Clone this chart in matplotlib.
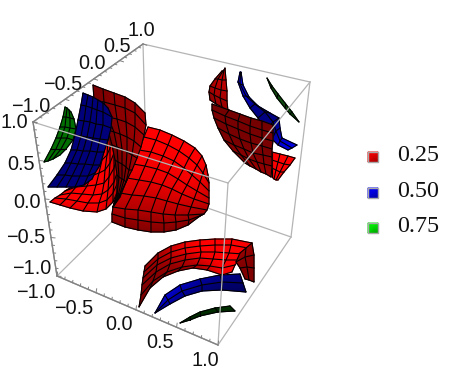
import numpy as np
import matplotlib
matplotlib.use("Agg")
import matplotlib.pyplot as plt
from matplotlib.colors import LinearSegmentedColormap

blob = [
    [(148,127),(160,130),(172,135),(184,141),(195,148),(202,156),(206,165),(208,175)],
    [(144,137),(156,140),(168,145),(179,151),(189,158),(197,165),(203,173),(209,183)],
    [(139,150),(151,152),(163,156),(174,161),(184,168),(192,175),(200,182),(209,191)],
    [(133,164),(145,166),(157,169),(168,173),(178,179),(187,185),(197,191),(209,198)],
    [(127,178),(139,180),(151,182),(162,185),(172,189),(182,194),(194,199),(209,204)],
    [(120,193),(132,195),(144,196),(156,198),(167,201),(178,204),(191,207),(207,210)],
    [(113,207),(125,209),(138,210),(151,212),(163,214),(175,215),(188,215),(204,214)],
    [(112,214),(125,218),(138,220),(151,222),(164,223),(176,222),(189,220),(202,215)],
    [(112,222),(125,227),(138,230),(151,232),(164,232),(176,230),(188,225),(200,216)],
]
left_red_flat = [
    [(80,180),(90,165),(98,155),(104,146),(108,140),(110,132),(111,125),(110,118)],
    [(76,185),(87,172),(95,165),(102,160),(107,155),(110,148),(113,140),(113,130)],
    [(70,188),(82,180),(91,176),(99,173),(105,170),(110,163),(114,153),(116,143)],
    [(65,191),(76,187),(87,186),(96,185),(104,183),(109,177),(114,168),(117,157)],
    [(60,195),(71,193),(82,194),(93,195),(102,194),(108,190),(114,182),(118,170)],
    [(55,198),(66,199),(77,201),(88,203),(99,203),(107,200),(113,193),(118,182)],
    [(50,202),(60,205),(70,208),(83,211),(97,212),(106,209),(113,202),(118,190)],
]
left_red_wall = [
    [(93,85),(103,89),(114,93),(125,97),(135,103),(145,113)],
    [(94,100),(104,102),(115,105),(125,108),(135,113),(146,125)],
    [(100,115),(108,117),(117,119),(126,122),(135,127),(144,135)],
    [(108,130),(114,132),(120,134),(127,137),(134,141),(141,147)],
    [(112,145),(117,147),(122,149),(127,152),(132,155),(137,158)],
    [(115,160),(118,162),(122,164),(126,167),(129,170),(132,170)],
    [(117,175),(119,177),(122,179),(124,180),(126,182),(127,180)],
    [(117,193),(117,195),(118,196),(119,197),(120,197),(120,194)],
    [(113,207),(113,207),(113,207),(113,207),(113,207),(113,207)],
]
left_blue = [
    [(83,93),(88,95),(93,97),(98,100),(103,103),(108,108)],
    [(81,105),(86,106),(92,108),(97,110),(103,112),(112,117)],
    [(78,120),(84,121),(90,122),(96,124),(103,125),(111,128)],
    [(75,135),(81,136),(87,137),(93,138),(100,139),(108,140)],
    [(71,150),(77,150),(83,151),(90,151),(97,152),(104,152)],
    [(65,163),(71,163),(78,164),(85,164),(93,165),(100,165)],
    [(57,175),(65,175),(72,176),(80,176),(88,176),(95,173)],
    [(48,187),(57,187),(66,187),(75,187),(84,185),(92,179)],
]
left_green = [
    [(65,107),(67,108),(69,110),(71,112)],
    [(63,117),(66,117),(70,118),(74,119)],
    [(60,127),(65,127),(70,128),(76,129)],
    [(56,138),(61,138),(67,138),(73,140)],
    [(51,149),(56,149),(61,149),(66,149)],
    [(44,162),(48,161),(53,159),(60,155)],
]
back_red_upper = [
    [(222,71),(223,71),(224,70),(225,68)],
    [(215,79),(218,79),(222,80),(226,80)],
    [(210,86),(215,88),(221,90),(227,91)],
    [(209,92),(214,95),(220,98),(227,101)],
    [(210,100),(216,104),(222,107),(228,111)],
]
back_red_plate = [
    [(212,104),(229,110),(240,114),(251,118),(262,121),(273,125)],
    [(212,110),(225,116),(238,121),(250,126),(262,130),(273,133)],
    [(214,118),(226,124),(238,129),(250,134),(262,138),(273,141)],
    [(218,128),(229,134),(240,139),(251,143),(262,146),(272,149)],
    [(224,140),(234,145),(244,149),(253,153),(263,155),(272,157)],
    [(233,151),(241,155),(249,159),(257,162),(264,164),(272,166)],
    [(245,163),(250,166),(256,169),(261,172),(266,174),(271,177)],
]
back_red_flat = [
    [(272,152),(280,154),(288,156),(295,158)],
    [(272,160),(278,162),(284,164),(290,165)],
    [(272,168),(276,170),(280,172),(284,172)],
    [(272,177),(274,179),(276,180),(278,180)],
]
back_blue = [
    [(240,72),(240.5,72),(241,72)],
    [(238,82),(240,84),(243,85)],
    [(243,96),(246,96),(249,97)],
    [(250,108),(255,104),(258,106)],
    [(258,118),(265,112),(270,113)],
    [(266,130),(273,122),(279,118)],
    [(272,139),(276,131),(280,128)],
    [(278,145),(280,141),(282,138)],
    [(288,150),(292,148),(297,145)],
]
back_green = [
    [(267,78),(272,86),(278,94),(285,103),(292,112),(299,122)],
    [(267,78),(271,88),(277,98),(285,108),(290,114),(299,122)],
]
floor_red_arch = [
    [(145,266),(158,253),(171,246),(185,242),(200,240),(215,239),(232,239),(252,243)],
    [(144,272),(158,259),(171,252),(185,248),(200,246),(215,245),(231,245),(248,248)],
    [(143,278),(157,265),(171,258),(186,254),(201,252),(215,252),(229,253),(243,254)],
    [(142,285),(156,272),(170,264),(185,260),(200,258),(213,259),(226,260),(239,260)],
    [(141,295),(153,281),(167,272),(182,267),(197,265),(210,266),(222,268),(235,265)],
    [(139,307),(150,288),(163,277),(178,271),(193,268),(207,270),(222,275),(232,272)],
]
floor_red_end = [
    [(240,253),(246,248),(252,243)],
    [(236,262),(245,257),(254,255)],
    [(240,268),(247,267),(254,268)],
    [(245,279),(249,280),(254,282)],
]
floor_blue = [
    [(155,313),(165,295),(180,285),(200,279),(220,275),(240,274)],
    [(155,313),(168,300),(182,291),(202,285),(222,282),(243,283)],
    [(155,313),(170,304),(185,296),(202,291),(222,290),(246,292)],
]
floor_green = [
    [(180,323),(190,317),(200,312),(215,308),(230,306)],
    [(180,323),(190,320),(200,316),(218,312),(235,311)],
]

# box corners
top_left = (33,122)
top_back = (143,44)
top_right = (310,82)
top_front = (228,183)
bot_left = (57,276)
bot_back = (147,187)
bot_right = (291,237)
bot_front = (218,345)

tick_values = [-1.0, -0.5, 0.0, 0.5, 1.0]
tick_labels = ["\u22121.0", "\u22120.5", "0.0", "0.5", "1.0"]
xlabel_pos = [(36,293),(74,308),(119,325),(160,342),(205,360)]
ylabel_pos = [(31,106),(63,84),(92,63),(117,46),(141,30)]
zlabel_pos = [(32,269),(26,237),(27,202),(21,164),(14,122)]

legend_values = ["0.25", "0.50", "0.75"]
legend_y = [155, 191, 226]

RED = (1, 0, 0)
BLUE = (0, 0, 1)
GREEN = (0, 1, 0)

fig = plt.figure(figsize=(4.52, 3.89), dpi=100)
ax = fig.add_axes([0, 0, 1, 1])
ax.set_xlim(0, 452)
ax.set_ylim(389, 0)
ax.axis("off")

z = [10]


def surface(grid, color, rows=None, cols=None, shade=None):
    g = np.array(grid, dtype=float)
    if shade is None:
        shade = np.outer(np.array(rows), np.array(cols))
    cmap = LinearSegmentedColormap.from_list("s", [(0, 0, 0), color])
    z[0] += 1
    ax.pcolormesh(g[:, :, 0], g[:, :, 1], np.array(shade), cmap=cmap, vmin=0, vmax=1,
                  shading="gouraud", zorder=z[0])
    for r in g:
        ax.plot(r[:, 0], r[:, 1], color="k", lw=0.8, zorder=z[0], solid_capstyle="round")
    for c in g.transpose(1, 0, 2):
        ax.plot(c[:, 0], c[:, 1], color="k", lw=0.8, zorder=z[0], solid_capstyle="round")


def edge(a, b, zorder):
    ax.plot([a[0], b[0]], [a[1], b[1]], color="#b4b4b4", lw=0.9, zorder=zorder)


def axis_ticks(a, b, w, d):
    # ticks every 0.1 along one edge, w is the perspective squeeze
    a = np.array(a, float)
    b = np.array(b, float)
    edge(a, b, 60)
    ax.plot([a[0], b[0]], [a[1], b[1]], color="#808080", lw=0.9, zorder=61)
    for i in range(21):
        u = i / 20
        s = u / (u + (1 - u) * w)
        p = a + (b - a) * s
        n = 4.0 if i % 5 == 0 else 2.2
        ax.plot([p[0], p[0] + d[0] * n], [p[1], p[1] + d[1] * n],
                color="#808080", lw=0.7, zorder=61)


for a, b in [(top_back, top_right), (top_back, bot_back), (bot_back, bot_left),
             (bot_back, bot_right), (top_right, bot_right), (bot_right, bot_front)]:
    edge(a, b, 1)

surface(back_green, (0.2, 1, 0.2), [0.3, 0.3], [1, 1, 1, 1, 1, 1])
surface(back_blue, BLUE, [0.85, 0.85, 0.8, 0.55, 0.5, 0.5, 0.6, 0.8, 0.9], [1, 1, 1])
surface(back_red_flat, RED, [1, 1, 1, 1], [1, 1, 1, 1])
surface(back_red_upper, RED, [0.75, 0.75, 0.7, 0.65, 0.6], [0.9, 1, 1, 1])
surface(back_red_plate, RED, [0.45, 0.47, 0.47, 0.47, 0.5, 0.55, 0.6], [1, 1, 1, 1, 1, 1])

surface(floor_green, GREEN, [0.4, 0.3], [0.5, 0.5, 0.5, 0.5, 0.5])
surface(floor_blue, BLUE, [0.85, 0.7, 0.6], [1, 1, 0.9, 0.75, 0.65, 0.6])
surface(floor_red_arch, RED, shade=[
    [0.60, 0.65, 0.75, 0.90, 1.00, 1.00, 1.00, 0.95],
    [0.58, 0.65, 0.80, 0.95, 1.00, 1.00, 1.00, 1.00],
    [0.55, 0.60, 0.70, 0.85, 1.00, 1.00, 1.00, 1.00],
    [0.52, 0.55, 0.60, 0.70, 0.90, 1.00, 1.00, 1.00],
    [0.50, 0.52, 0.55, 0.60, 0.70, 0.85, 1.00, 1.00],
    [0.48, 0.50, 0.52, 0.55, 0.60, 0.75, 0.95, 1.00],
])
surface(floor_red_end, RED, [0.6, 0.55, 0.5, 0.5], [1, 1, 1])

surface(blob, RED, [1, 1, 0.98, 0.95, 0.9, 0.8, 0.7, 0.6, 0.5], [1, 1, 1, 1, 1, 1, 0.95, 0.85])
surface(left_red_flat, RED, [1, 1, 1, 1, 1, 1, 0.9], [1, 1, 1, 1, 1, 0.95, 0.85, 0.8])
surface(left_red_wall, RED, [0.55, 0.55, 0.55, 0.55, 0.55, 0.5, 0.5, 0.5, 0.5],
        [0.85, 0.9, 1, 1, 1.1, 1.2])
surface(left_green, GREEN, [0.43] * 6, [1, 1, 1, 1])
surface(left_blue, BLUE, [0.48] * 8, [1, 1, 1, 1, 1, 1])

# box edges in front of the surfaces
for a, b in [(top_left, top_front), (top_front, top_right), (top_front, bot_front),
             (top_left, top_back), (top_left, bot_left), (bot_left, bot_front)]:
    edge(a, b, 60)

axis_ticks(bot_left, bot_front, 1.04, (0.15, -1))
axis_ticks(top_left, top_back, 0.81, (0.95, 0.3))
axis_ticks(bot_left, top_left, 1.0, (1, 0.1))

for lab, px in zip(tick_labels, xlabel_pos):
    ax.text(px[0], px[1], lab, ha="center", va="center", fontsize=14.3,
            family="Liberation Sans", color="#111111", zorder=70)
for lab, px in zip(tick_labels, ylabel_pos):
    ax.text(px[0], px[1], lab, ha="center", va="center", fontsize=14.3,
            family="Liberation Sans", color="#111111", zorder=70)
for lab, px in zip(tick_labels, zlabel_pos):
    ax.text(px[0], px[1], lab, ha="center", va="center", fontsize=14.3,
            family="Liberation Sans", color="#111111", zorder=70)

for val, y, col in zip(legend_values, legend_y, [RED, BLUE, GREEN]):
    cmap = LinearSegmentedColormap.from_list("l", [(0, 0, 0), col])
    xs = np.array([[368, 378], [368, 378]], float)
    ys = np.array([[y - 3, y - 3], [y + 7, y + 7]], float)
    ax.pcolormesh(xs, ys, np.array([[1.0, 0.95], [0.8, 0.6]]), cmap=cmap, vmin=0, vmax=1,
                  shading="gouraud", zorder=5)
    ax.plot([368, 378, 378, 368, 368], [y - 3, y - 3, y + 7, y + 7, y - 3],
            color="#a8a8a8", lw=1.0, zorder=6)
    ax.text(397, y, val, ha="left", va="center", fontsize=17.3,
            family="Liberation Serif", color="#111111")

fig.savefig("out.png", dpi=100)
plt.close()
